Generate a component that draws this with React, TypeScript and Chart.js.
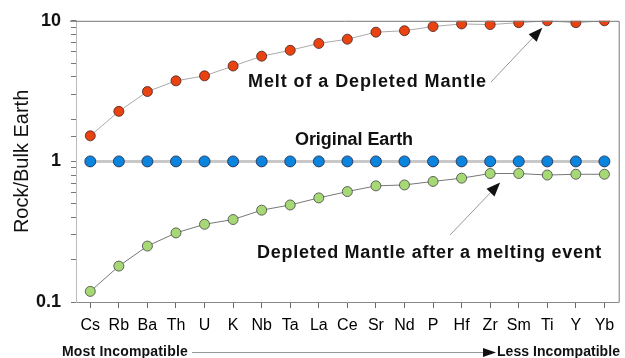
import React, { useEffect, useRef } from "react";
import { Chart, registerables } from "chart.js";
Chart.register(...registerables);

const elements = ["Cs", "Rb", "Ba", "Th", "U", "K", "Nb", "Ta", "La", "Ce", "Sr", "Nd", "P", "Hf", "Zr", "Sm", "Ti", "Y", "Yb"];
const meltValues = [1.52, 2.27, 3.14, 3.74, 4.06, 4.77, 5.6, 6.17, 6.9, 7.4, 8.3, 8.5, 9.1, 9.5, 9.4, 9.7, 10, 9.7, 10];
const originalValues = [1, 1, 1, 1, 1, 1, 1, 1, 1, 1, 1, 1, 1, 1, 1, 1, 1, 1, 1];
const depletedValues = [0.119, 0.18, 0.25, 0.31, 0.357, 0.386, 0.45, 0.49, 0.55, 0.61, 0.67, 0.68, 0.72, 0.76, 0.82, 0.82, 0.8, 0.81, 0.81];
const yTickLabels = [0.1, 1, 10];

const FONT = "'Liberation Sans', Arial, sans-serif";

function arrow(ctx: CanvasRenderingContext2D, x1: number, y1: number, x2: number, y2: number, headLen: number, headW: number, lineColor: string) {
  const ang = Math.atan2(y2 - y1, x2 - x1);
  const bx = x2 - headLen * Math.cos(ang);
  const by = y2 - headLen * Math.sin(ang);
  ctx.strokeStyle = lineColor;
  ctx.lineWidth = 1;
  ctx.beginPath();
  ctx.moveTo(x1, y1);
  ctx.lineTo(bx, by);
  ctx.stroke();
  ctx.fillStyle = "#111";
  ctx.beginPath();
  ctx.moveTo(x2, y2);
  ctx.lineTo(bx + (headW / 2) * Math.sin(ang), by - (headW / 2) * Math.cos(ang));
  ctx.lineTo(bx - (headW / 2) * Math.sin(ang), by + (headW / 2) * Math.cos(ang));
  ctx.closePath();
  ctx.fill();
}

// draw text stretched to a target width using letter spacing
function fitText(ctx: any, text: string, x: number, y: number, width: number, align: "left" | "center") {
  ctx.letterSpacing = "0px";
  const w = ctx.measureText(text).width;
  const extra = (width - w) / text.length;
  ctx.letterSpacing = `${extra.toFixed(2)}px`;
  ctx.textAlign = "left";
  const sx = align === "center" ? x - width / 2 : x;
  ctx.fillText(text, sx, y);
  ctx.letterSpacing = "0px";
}

const annotations = {
  id: "annotations",
  afterDraw(chart: any) {
    const ctx: CanvasRenderingContext2D = chart.ctx;
    const { left, right, top, bottom } = chart.chartArea;
    const xs = chart.scales.x;
    const ys = chart.scales.y;
    ctx.save();
    // frame
    ctx.lineWidth = 1;
    ctx.strokeStyle = "#777";
    ctx.beginPath();
    ctx.moveTo(left - 6, top + 0.5);
    ctx.lineTo(right + 0.5, top + 0.5);
    ctx.lineTo(right + 0.5, bottom + 0.5);
    ctx.stroke();

    // y axis title
    ctx.fillStyle = "#111";
    ctx.font = `20px ${FONT}`;
    ctx.textAlign = "center";
    ctx.textBaseline = "middle";
    ctx.save();
    ctx.translate(22, (top + bottom) / 2);
    ctx.rotate(-Math.PI / 2);
    ctx.fillText("Rock/Bulk Earth", 0, 0);
    ctx.restore();

    // labels
    ctx.textBaseline = "alphabetic";
    ctx.font = `bold 18px ${FONT}`;
    fitText(ctx, "Melt of a Depleted Mantle", 248, 87, 239, "left");
    fitText(ctx, "Original Earth", 354, 145, 118, "center");
    fitText(ctx, "Depleted Mantle after a melting event", 257, 258, 345, "left");

    // arrows anchored to data points
    const tiX = xs.getPixelForValue(16);
    const tiY = ys.getPixelForValue(meltValues[16]);
    arrow(ctx, 491, 82, tiX - 5, tiY + 7, 14, 11, "#999");
    const zrX = xs.getPixelForValue(14);
    const zrY = ys.getPixelForValue(depletedValues[14]);
    arrow(ctx, 450, 235, zrX + 10, zrY + 9, 14, 11, "#999");

    // bottom incompatibility arrow
    ctx.font = `bold 14px ${FONT}`;
    ctx.fillStyle = "#111";
    fitText(ctx, "Most Incompatible", 62, 356, 126, "left");
    ctx.strokeStyle = "#999";
    ctx.beginPath();
    ctx.moveTo(192, 352.5);
    ctx.lineTo(485, 352.5);
    ctx.stroke();
    ctx.fillStyle = "#111";
    ctx.beginPath();
    ctx.moveTo(483, 348);
    ctx.lineTo(496, 352.5);
    ctx.lineTo(483, 357);
    ctx.closePath();
    ctx.fill();
    fitText(ctx, "Less Incompatible", 497, 356, 123, "left");
    ctx.restore();
  },
};

export default function App() {
  const ref = useRef<HTMLCanvasElement>(null);
  useEffect(() => {
    const chart = new Chart(ref.current!, {
      type: "line",
      data: {
        labels: elements,
        datasets: [
          {
            label: "Original Earth",
            data: originalValues,
            borderColor: "#c8c8c8",
            borderWidth: 3,
            backgroundColor: "#0a84dc",
            pointBackgroundColor: "#0a84dc",
            pointBorderColor: "#224",
            pointBorderWidth: 0.8,
            pointRadius: 5.5,
          },
          {
            label: "Melt of a Depleted Mantle",
            data: meltValues,
            borderColor: "#aaa",
            borderWidth: 1,
            pointBackgroundColor: "#ea4312",
            pointBorderColor: "#422",
            pointBorderWidth: 0.8,
            pointRadius: 5,
          },
          {
            label: "Depleted Mantle after a melting event",
            data: depletedValues,
            borderColor: "#777",
            borderWidth: 1,
            pointBackgroundColor: "#a6d876",
            pointBorderColor: "#444",
            pointBorderWidth: 0.8,
            pointRadius: 5,
          },
        ],
      },
      options: {
        animation: false,
        responsive: false,
        events: [],
        layout: { padding: { top: 16, right: 6, left: 0, bottom: 0 } },
        plugins: { legend: { display: false }, tooltip: { enabled: false } },
        scales: {
          x: {
            type: "category",
            offset: true,
            grid: { display: true, drawOnChartArea: false, tickLength: 6, color: "#666" },
            border: { display: true, color: "#888" },
            ticks: { color: "#000", font: { family: FONT, size: 16 }, padding: 8, maxRotation: 0, autoSkip: false },
            afterFit: (s: any) => { s.height = 56; },
          },
          y: {
            type: "logarithmic",
            min: 0.1,
            max: 10,
            grid: { display: true, drawOnChartArea: false, tickLength: 5, color: "#777" },
            border: { display: true, color: "#bbb" },
            ticks: {
              autoSkip: false,
              color: "#111",
              padding: 10,
              font: { family: FONT, size: 18, weight: "bold" },
              callback: (v: any) => (yTickLabels.includes(Number(v)) ? String(v) : ""),
            },
            afterFit: (s: any) => { s.width = 76; },
          },
        },
      },
      plugins: [annotations],
    });
    return () => chart.destroy();
  }, []);
  return (
    <div style={{ position: "fixed", left: 0, top: 0, width: 625, height: 358, background: "#fff" }}>
      <canvas ref={ref} width={625} height={358} />
    </div>
  );
}
